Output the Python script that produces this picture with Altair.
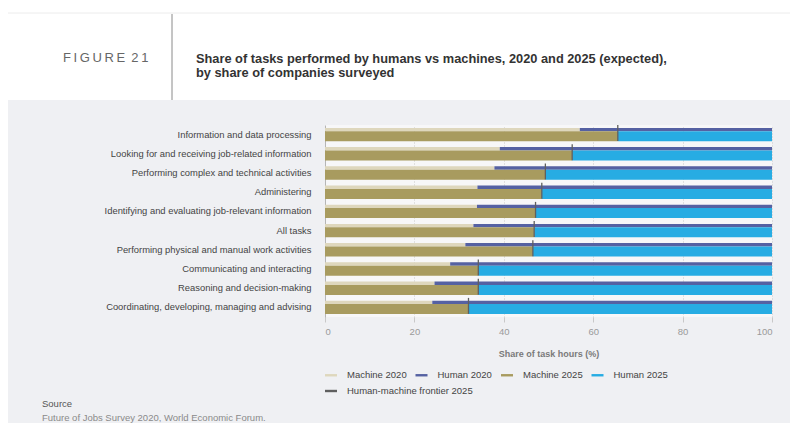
import altair as alt
import pandas as pd

categories = [
    "Information and data processing",
    "Looking for and receiving job-related information",
    "Performing complex and technical activities",
    "Administering",
    "Identifying and evaluating job-relevant information",
    "All tasks",
    "Performing physical and manual work activities",
    "Communicating and interacting",
    "Reasoning and decision-making",
    "Coordinating, developing, managing and advising",
]
machine_2020 = [57.0, 39.1, 37.9, 34.1, 34.0, 33.2, 31.4, 28.0, 24.5, 24.0]
machine_2025 = [65.5, 55.3, 49.3, 48.5, 47.1, 46.8, 46.5, 34.3, 34.3, 32.1]
bar_series = ["Machine 2020", "Human 2020", "Machine 2025", "Human 2025"]
bar_colors = ["#ded7bd", "#5561a2", "#a89b5f", "#27ace3"]
frontier_series = ["Human-machine frontier 2025"]
frontier_colors = ["#5f5f5f"]
x_ticks = [0, 20, 40, 60, 80, 100]

rows = []
for c, m20, m25 in zip(categories, machine_2020, machine_2025):
    rows.append(dict(category=c, series="Machine 2020", year=2020, start=0, end=m20))
    rows.append(dict(category=c, series="Human 2020", year=2020, start=m20, end=100))
    rows.append(dict(category=c, series="Machine 2025", year=2025, start=0, end=m25))
    rows.append(dict(category=c, series="Human 2025", year=2025, start=m25, end=100))
bars = pd.DataFrame(rows)
frontier = pd.DataFrame(dict(category=categories, value=machine_2025,
                             series=frontier_series * len(categories)))
one = pd.DataFrame({"k": [0]})

FONT = "Liberation Sans"

legend_common = dict(
    title=None, orient="none", legendX=0, direction="horizontal",
    padding=0, columnPadding=8.5,
    symbolType="M-1,-0.2H1V0.2H-1Z", symbolSize=144, symbolStrokeWidth=0,
    symbolOpacity=1,
    labelFontSize=9.5, labelColor="#444", labelFont=FONT, labelOffset=10,
    labelLimit=300,
)

color = alt.Color(
    "series:N",
    scale=alt.Scale(domain=bar_series, range=bar_colors),
    legend=alt.Legend(legendY=244, columns=4, **legend_common),
)
fill = alt.Fill(
    "series:N",
    scale=alt.Scale(domain=frontier_series, range=frontier_colors),
    legend=alt.Legend(legendY=260, **legend_common),
)

y_enc = alt.Y(
    "category:N", sort=categories,
    scale=alt.Scale(paddingInner=0, paddingOuter=0),
    axis=alt.Axis(title=None, ticks=False, domain=True, domainColor="#b5b5b5",
                  labelFontSize=9.4, labelColor="#444", labelFont=FONT,
                  labelPadding=14, labelLimit=320, grid=False),
)
x_enc = alt.X(
    "start:Q",
    scale=alt.Scale(domain=[0, 100], nice=False),
    axis=alt.Axis(values=x_ticks, title="Share of task hours (%)", grid=True,
                  gridDash=[1, 2], gridColor="#c8c8c8", domain=False,
                  tickColor="#c8c8c8", tickSize=5, labelColor="#9a9a9a",
                  labelFontSize=9.5, labelFont=FONT, labelPadding=4,
                  titleFontSize=9, titleFontWeight="bold", titleColor="#7a7a7a",
                  titleFont=FONT, titlePadding=14),
)

base = alt.Chart(bars)
b2020 = base.transform_filter("datum.year == 2020").mark_bar(
    height=3.4, yOffset=-5).encode(x=x_enc, x2="end:Q", y=y_enc, color=color)
b2025 = base.transform_filter("datum.year == 2025").mark_bar(
    height=10, yOffset=1.7).encode(x="start:Q", x2="end:Q", y=y_enc, color=color)
ticks = alt.Chart(frontier).mark_tick(size=16, thickness=1.3, yOffset=-1.5, opacity=1).encode(
    x="value:Q", y=y_enc, fill=fill)

# header decoration
header_bg = alt.Chart(one).mark_rect(color="white").encode(
    x=alt.value(-317), x2=alt.value(465), y=alt.value(-117), y2=alt.value(-25))
top_line = alt.Chart(one).mark_rule(color="#ececec", strokeWidth=1).encode(
    x=alt.value(-317), x2=alt.value(465), y=alt.value(-112))
vline = alt.Chart(one).mark_rule(color="#8a8a8a", strokeWidth=1).encode(
    x=alt.value(-153), y=alt.value(-111), y2=alt.value(-25))
fig_label = alt.Chart(one).mark_text(
    text="F\u2009I\u2009G\u2009U\u2009R\u2009E\u2009 2\u20091", align="left", baseline="middle",
    font=FONT, fontSize=13, color="#666").encode(x=alt.value(-262), y=alt.value(-67))
title1 = alt.Chart(one).mark_text(
    text="Share of tasks performed by humans vs machines, 2020 and 2025 (expected),",
    align="left", baseline="middle", font=FONT, fontSize=12.8, fontWeight="bold",
    color="#333").encode(x=alt.value(-129), y=alt.value(-66))
title2 = alt.Chart(one).mark_text(
    text="by share of companies surveyed",
    align="left", baseline="middle", font=FONT, fontSize=12.8, fontWeight="bold",
    color="#333").encode(x=alt.value(-129), y=alt.value(-52))
src1 = alt.Chart(one).mark_text(
    text="Source", align="left", baseline="middle", font=FONT, fontSize=9.5,
    color="#555").encode(x=alt.value(-283), y=alt.value(279))
src2 = alt.Chart(one).mark_text(
    text="Future of Jobs Survey 2020, World Economic Forum.", align="left",
    baseline="middle", font=FONT, fontSize=9.5, color="#8a8a8a").encode(
    x=alt.value(-283), y=alt.value(293))

chart = alt.layer(
    header_bg, top_line, vline, fig_label, title1, title2,
    b2020, b2025, ticks, src1, src2,
).properties(
    width=447, height=192,
    autosize=alt.AutoSizeParams(type="none"),
    padding={"left": 317, "top": 117, "right": 18, "bottom": 106},
    background="#eff0f3",
).configure_view(fill="#f7f7f8", stroke=None)

chart.save("out.html", embed_options={"renderer": "svg", "actions": False})
